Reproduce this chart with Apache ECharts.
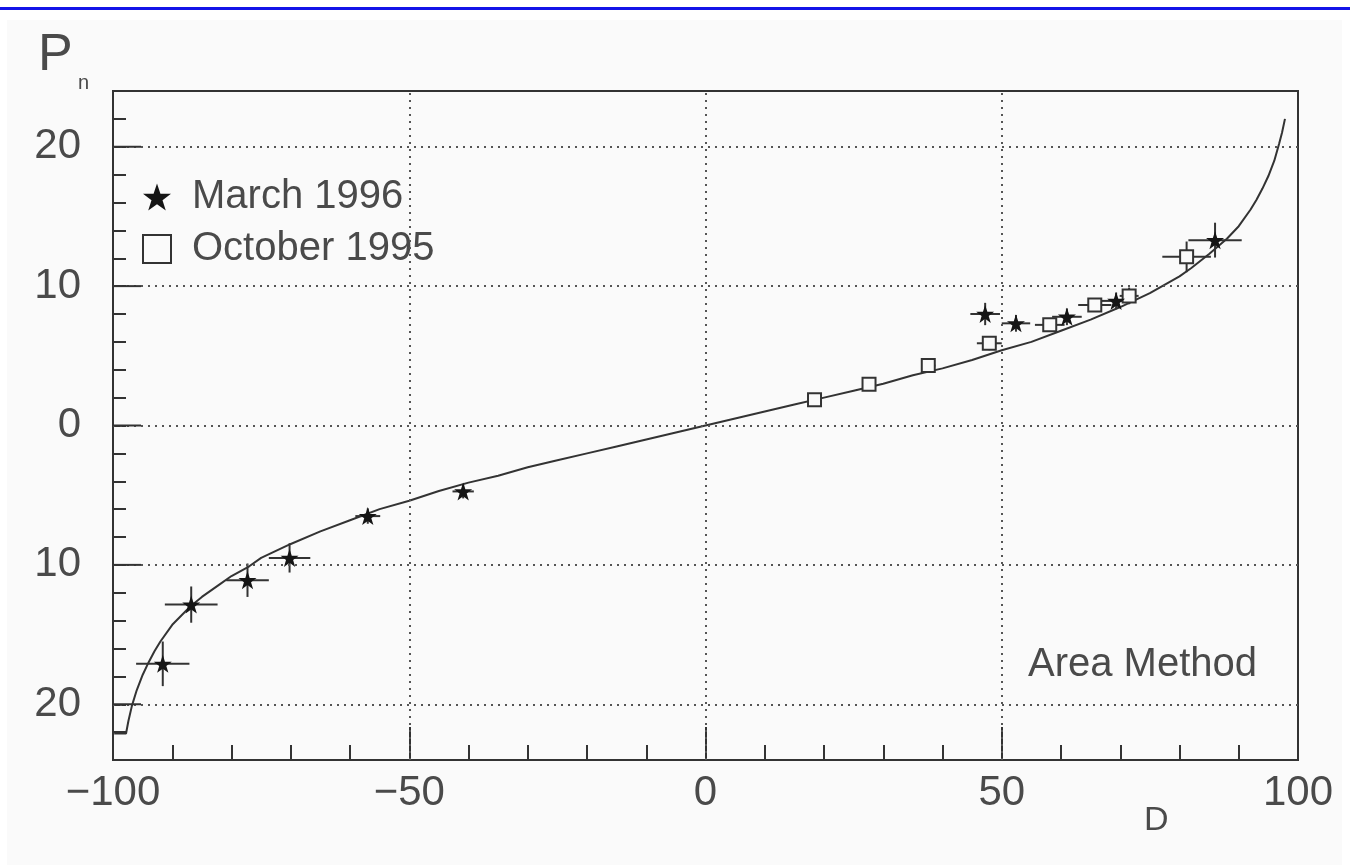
<!DOCTYPE html>
<html>
<head>
<meta charset="utf-8">
<script src="https://cdn.jsdelivr.net/npm/echarts@6/dist/echarts.min.js"></script>
<style>
  html, body { margin: 0; padding: 0; background: #ffffff; }
  #paper { position: absolute; left: 7px; top: 20px; width: 1335px; height: 845px; background: #fafafa; }
  #blue { position: absolute; left: 0; top: 7px; width: 1350px; height: 3px; background: #1414e8; }
  #chart { position: absolute; left: 0; top: 0; width: 1350px; height: 865px; }
</style>
</head>
<body>
<div id="paper"></div>
<div id="blue"></div>
<div id="chart"></div>
<script>
// ---- data ----
// March 1996: [D, Pn, half-width error in D, half-height error in Pn]
const march1996 = [
  [-91.6, -17.1, 4.5, 1.6],
  [-86.8, -12.85, 4.45, 1.3],
  [-77.3, -11.1, 3.6, 1.2],
  [-70.2, -9.5, 3.5, 1.05],
  [-57.0, -6.5, 2.1, 0.55],
  [-40.9, -4.73, 1.8, 0.5],
  [47.2, 8.0, 2.5, 0.8],
  [52.4, 7.33, 2.4, 0.6],
  [61.0, 7.8, 2.5, 0.6],
  [69.3, 8.94, 2.5, 0.6],
  [86.0, 13.3, 4.5, 1.25]
];
// October 1995: [D, Pn, error D, error Pn]
const october1995 = [
  [18.4, 1.84, 0.0, 0.0],
  [27.6, 2.96, 0.9, 0.3],
  [37.6, 4.3, 1.2, 0.3],
  [47.9, 5.9, 2.1, 0.5],
  [58.1, 7.22, 2.5, 0.4],
  [65.7, 8.65, 2.8, 0.5],
  [71.5, 9.3, 1.6, 0.6],
  [81.2, 12.1, 4.1, 1.1]
];
// theory curve, read point by point
const curveD = [-99.8, -97.8, -97.4, -96.8, -96, -95, -94, -93, -92, -90, -87, -85, -82, -80, -77, -75, -70, -65, -60, -55, -50, -45, -40, -35, -30, -25, -20, -15, -10, -5, 0,
  5, 10, 15, 20, 25, 30, 35, 40, 45, 50, 55, 60, 65, 70, 75, 80, 82, 85, 88, 90, 92, 93, 94, 95, 96, 96.8, 97.3, 97.8];
const curveP = [-22.1, -22.1, -21.2, -20.1, -19.0, -17.9, -17.0, -16.2, -15.5, -14.3, -13.0, -12.3, -11.4, -10.8, -10.1, -9.5, -8.5, -7.6, -6.8, -6.0, -5.4, -4.7, -4.1, -3.6, -3.0, -2.5, -2.0, -1.5, -1.0, -0.5, 0,
  0.5, 1.0, 1.5, 2.0, 2.5, 3.0, 3.6, 4.1, 4.7, 5.4, 6.0, 6.8, 7.6, 8.5, 9.5, 10.7, 11.3, 12.3, 13.4, 14.3, 15.5, 16.2, 17.0, 17.9, 19.0, 20.2, 21.0, 22.0];
const xLabelValues = [-100, -50, 0, 50, 100];
const yLabelValues = [-20, -10, 0, 10, 20];
const xGridValues = [-50, 0, 50];
const yGridValues = [-20, -10, 0, 10, 20];

// ---- styling ----
const FONT = 'Liberation Sans';
const INK = '#333333';
const TXT = '#4a4a4a';
const STAR = 'path://M50,2 L61.5,36 L97,36 L68.5,57.5 L79.5,92 L50,71 L20.5,92 L31.5,57.5 L3,36 L38.5,36 Z';
const MAJOR_TICK_PX = 28;

const chart = echarts.init(document.getElementById('chart'), null, { renderer: 'canvas' });

function errorBars(api) {
  const x = api.value(0), y = api.value(1), dx = api.value(2), dy = api.value(3);
  const l = api.coord([x - dx, y]), r = api.coord([x + dx, y]);
  const b = api.coord([x, y - dy]), t = api.coord([x, y + dy]);
  const st = { stroke: INK, lineWidth: 2 };
  const children = [];
  if (dx > 0) children.push({ type: 'line', shape: { x1: l[0], y1: l[1], x2: r[0], y2: r[1] }, style: st });
  if (dy > 0) children.push({ type: 'line', shape: { x1: b[0], y1: b[1], x2: t[0], y2: t[1] }, style: st });
  return { type: 'group', children };
}

// long (major) ticks on the left axis at the labelled values
function majorYTick(params, api) {
  const p = api.coord([api.value(0), api.value(1)]);
  return {
    type: 'group',
    children: [{ type: 'line', shape: { x1: p[0], y1: p[1], x2: p[0] + MAJOR_TICK_PX, y2: p[1] }, style: { stroke: INK, lineWidth: 2 } }]
  };
}

const gridLineData = xGridValues.map(v => ({ xAxis: v })).concat(yGridValues.map(v => ({ yAxis: v })));

const option = {
  animation: false,
  backgroundColor: 'transparent',
  grid: { left: 113, right: 52, top: 91, bottom: 105, show: true, borderColor: INK, borderWidth: 2, backgroundColor: 'transparent' },
  legend: {
    data: ['March 1996', 'October 1995'],
    orient: 'vertical', left: 137, top: 172,
    itemWidth: 28, itemHeight: 28, itemGap: 12,
    selectedMode: false,
    textStyle: { fontFamily: FONT, fontSize: 40, color: TXT, lineHeight: 40, padding: [0, 0, 0, 16] }
  },
  xAxis: [
    {
      type: 'value', min: -100, max: 100, interval: 10, position: 'bottom',
      axisLine: { show: true, onZero: false, lineStyle: { color: INK, width: 2 } },
      axisTick: { show: true, inside: true, length: 15, lineStyle: { color: INK, width: 2 } },
      axisLabel: {
        margin: 12, fontFamily: FONT, fontSize: 42, color: TXT,
        showMinLabel: true, showMaxLabel: true,
        formatter: v => xLabelValues.indexOf(v) >= 0 ? (v < 0 ? '\u2212' + Math.abs(v) : String(v)) : ''
      },
      splitLine: { show: false }
    },
    {
      type: 'value', min: -100, max: 100, interval: 50, position: 'bottom',
      axisLine: { show: false, onZero: false },
      axisTick: { show: true, inside: true, length: 33, lineStyle: { color: INK, width: 2 } },
      axisLabel: { show: false },
      splitLine: { show: false }
    }
  ],
  yAxis: [
    {
      type: 'value', min: -24, max: 24, interval: 2, position: 'left',
      axisLine: { show: true, onZero: false, lineStyle: { color: INK, width: 2 } },
      axisTick: { show: true, inside: true, length: 13, lineStyle: { color: INK, width: 2 } },
      axisLabel: {
        margin: 32, fontFamily: FONT, fontSize: 42, color: TXT,
        formatter: v => yLabelValues.indexOf(v) >= 0 ? String(Math.abs(v)) : ''
      },
      splitLine: { show: false }
    }
  ],
  series: [
    {
      name: 'theory', type: 'line', xAxisIndex: 0, yAxisIndex: 0,
      data: curveD.map((d, i) => [d, curveP[i]]),
      showSymbol: false, symbol: 'none', smooth: false, z: 3,
      lineStyle: { color: INK, width: 2 },
      markLine: {
        silent: true, symbol: 'none', animation: false,
        label: { show: false },
        lineStyle: { color: '#555', width: 2, type: [2, 5] },
        data: gridLineData
      }
    },
    {
      name: 'majorTicksY', type: 'custom', xAxisIndex: 0, yAxisIndex: 0,
      data: yGridValues.map(v => [-100, v]),
      renderItem: majorYTick,
      encode: { x: 0, y: 1 }, z: 7, silent: true
    },
    {
      name: 'err1996', type: 'custom', xAxisIndex: 0, yAxisIndex: 0,
      data: march1996, renderItem: (p, api) => errorBars(api),
      encode: { x: 0, y: 1 }, z: 4, silent: true
    },
    {
      name: 'err1995', type: 'custom', xAxisIndex: 0, yAxisIndex: 0,
      data: october1995, renderItem: (p, api) => errorBars(api),
      encode: { x: 0, y: 1 }, z: 4, silent: true
    },
    {
      name: 'October 1995', type: 'scatter', xAxisIndex: 0, yAxisIndex: 0,
      data: october1995.map(r => [r[0], r[1]]),
      symbol: 'rect', symbolSize: 13, z: 5,
      itemStyle: { color: '#fafafa', borderColor: INK, borderWidth: 2, opacity: 1 }
    },
    {
      name: 'March 1996', type: 'scatter', xAxisIndex: 0, yAxisIndex: 0,
      data: march1996.map(r => [r[0], r[1]]),
      symbol: STAR, symbolSize: 18, z: 6,
      itemStyle: { color: '#151515', opacity: 1 }
    }
  ],
  graphic: [
    { type: 'text', left: 38, top: 30, style: { text: 'P', font: '300 52px "Liberation Sans"', fill: TXT } },
    { type: 'text', left: 78, top: 73, style: { text: 'n', font: '20px "Liberation Sans"', fill: TXT } },
    { type: 'text', left: 1144, top: 804, style: { text: 'D', font: '34px "Liberation Sans"', fill: TXT } },
    { type: 'text', left: 1028, top: 645, style: { text: 'Area Method', font: '40px "Liberation Sans"', fill: TXT } }
  ]
};
chart.setOption(option);
</script>
</body>
</html>
